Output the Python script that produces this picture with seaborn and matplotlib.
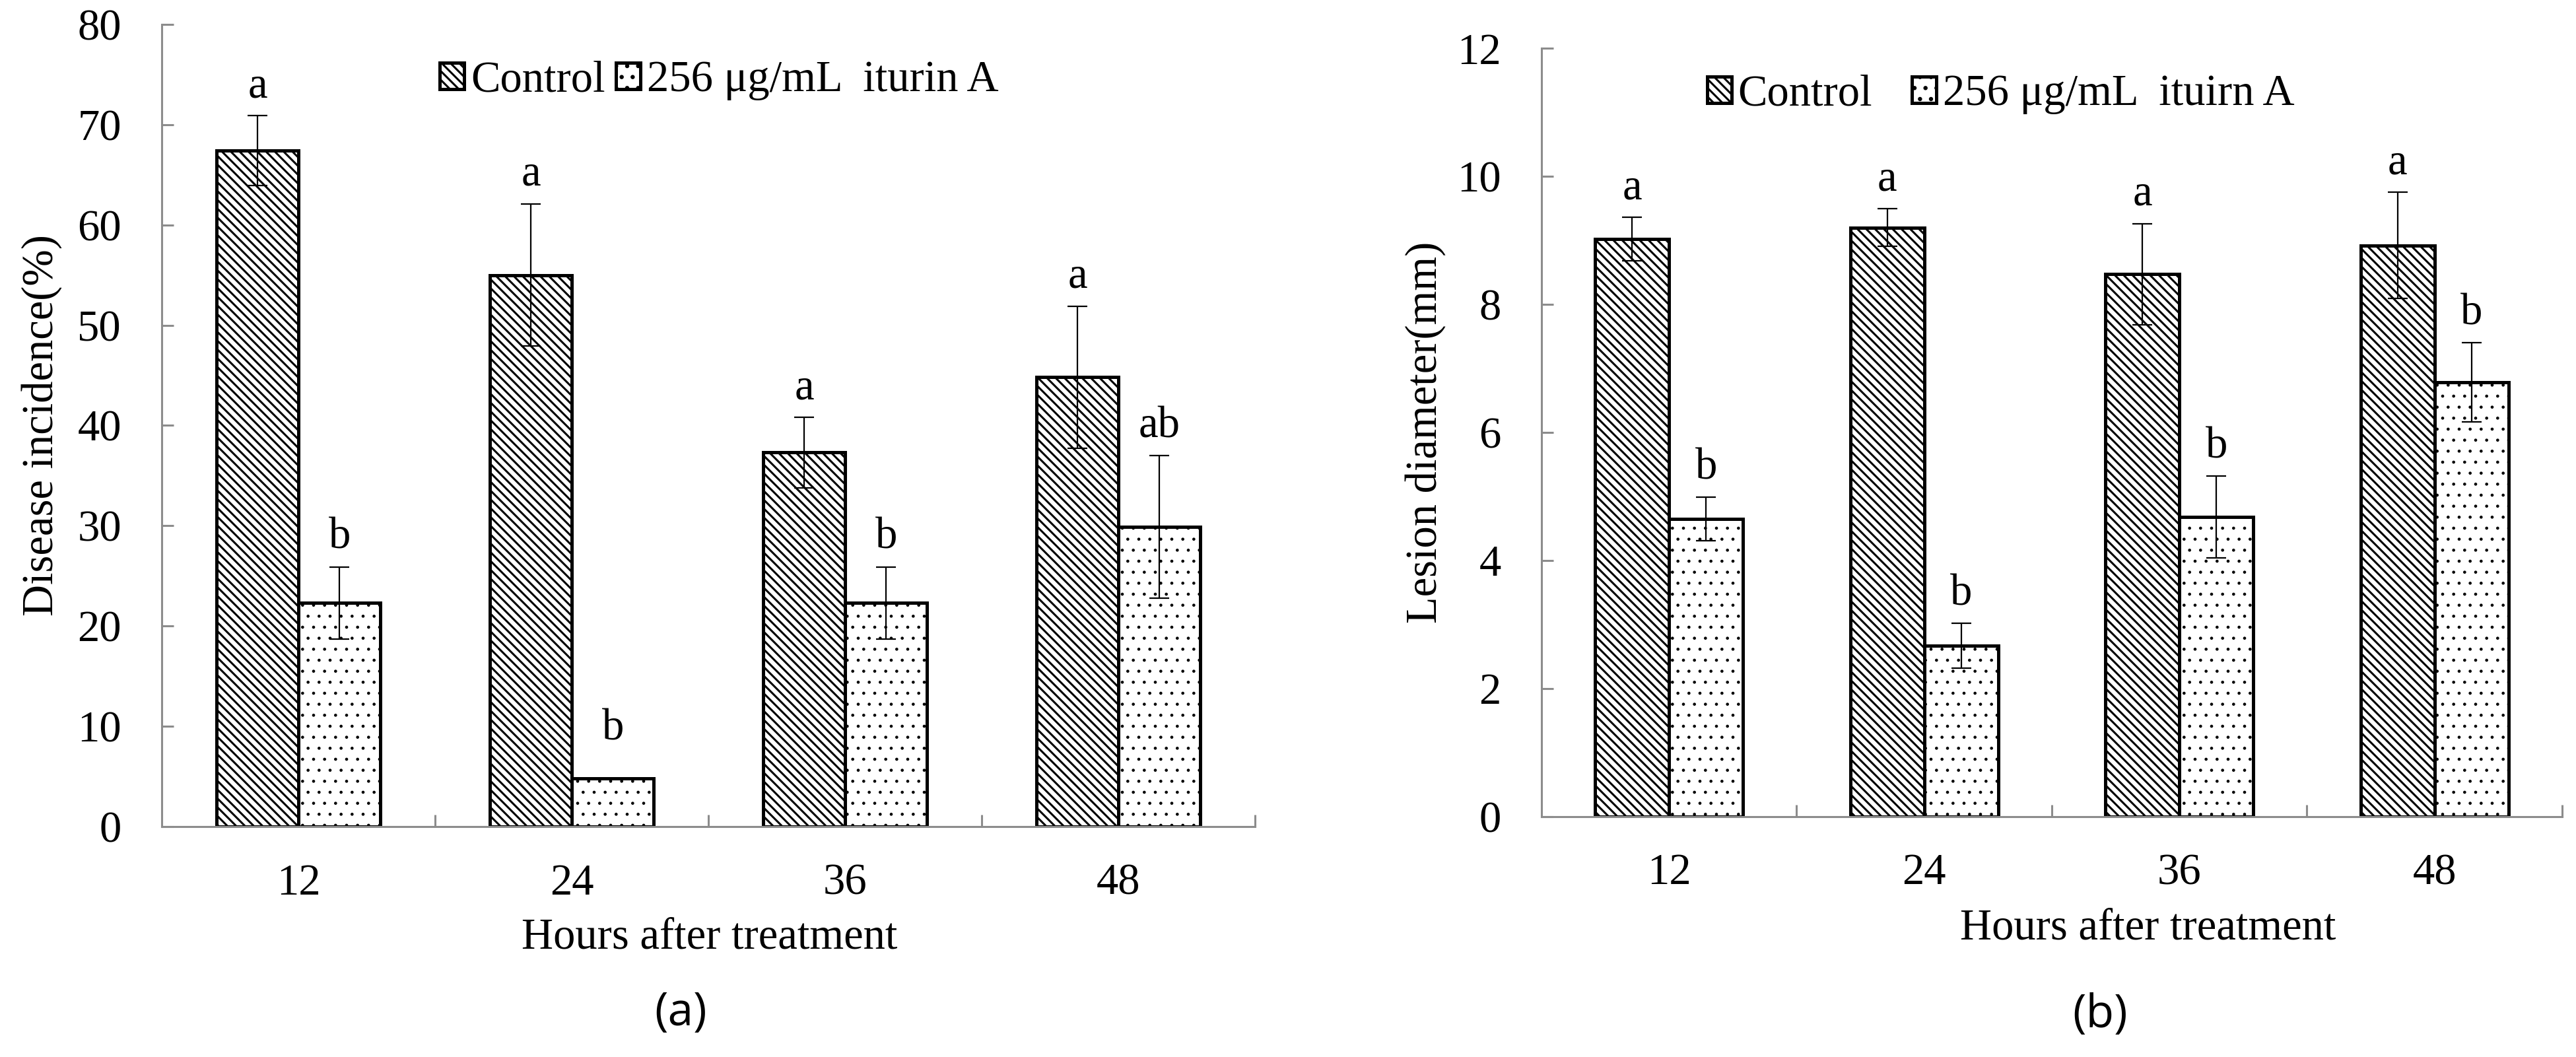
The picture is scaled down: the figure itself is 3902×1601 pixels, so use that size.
import matplotlib
matplotlib.use("Agg")
import pandas as pd
import matplotlib.pyplot as plt
import seaborn as sns

hours = ["12", "24", "36", "48"]
labels_a = ["Control", "256 μg/mL  iturin A"]
labels_b = ["Control", "256 μg/mL  ituirn A"]

# (a) disease incidence, %
inc_control = [67.4, 55.0, 37.3, 44.8]
inc_control_err = [3.5, 7.1, 3.5, 7.1]
inc_iturin = [22.3, 4.8, 22.3, 29.9]
inc_iturin_err = [3.6, 0.0, 3.6, 7.1]
inc_letters_control = ["a", "a", "a", "a"]
inc_letters_iturin = ["b", "b", "b", "ab"]

# (b) lesion diameter, mm
les_control = [9.02, 9.20, 8.47, 8.92]
les_control_err = [0.34, 0.29, 0.79, 0.83]
les_iturin = [4.65, 2.67, 4.68, 6.78]
les_iturin_err = [0.34, 0.35, 0.64, 0.62]
les_letters_control = ["a", "a", "a", "a"]
les_letters_iturin = ["b", "b", "b", "b"]

sns.set_theme(style="white")
plt.rcParams["font.family"] = ["Liberation Serif", "DejaVu Serif"]
plt.rcParams["hatch.linewidth"] = 1.1
plt.rcParams["text.color"] = "black"
plt.rcParams["axes.labelcolor"] = "black"

GRAY = "#8c8c8c"
FS = 24


def panel(ax, control, c_err, iturin, i_err, let_c, let_i, labels, width,
          ymax, ystep, ylabel, leg_xy, colsp):
    df = pd.DataFrame({
        "hours": hours * 2,
        "group": [labels[0]] * 4 + [labels[1]] * 4,
        "value": control + iturin,
    })
    sns.barplot(data=df, x="hours", y="value", hue="group",
                palette=["white", "white"], saturation=1, width=width,
                errorbar=None, edgecolor="black", linewidth=1.8,
                legend=False, ax=ax)

    hatches = ["\\\\\\\\\\", ".."]
    hatch_lw = [1.1, 0.45]
    vals = [control, iturin]
    errs = [c_err, i_err]
    letters = [let_c, let_i]
    bars = list(ax.containers)
    for k, cont in enumerate(bars):
        xs = []
        for bar in cont.patches:
            bar.set_hatch(hatches[k])
            if hasattr(bar, "set_hatch_linewidth"):
                bar.set_hatch_linewidth(hatch_lw[k])
            else:
                bar._hatch_linewidth = hatch_lw[k]
            xs.append(bar.get_x() + bar.get_width() / 2)
        ax.errorbar(xs, vals[k], yerr=errs[k], fmt="none", ecolor="black",
                    elinewidth=0.8, capsize=5.5, capthick=0.8, zorder=5)
        for x, v, e, t in zip(xs, vals[k], errs[k], letters[k]):
            off = 5 if e > 0 else 16
            ax.annotate(t, (x, v + e), xytext=(0, off), textcoords="offset points",
                        ha="center", va="bottom", fontsize=FS)

    ax.set_xlim(-0.5, 3.5)
    ax.set_ylim(0, ymax)
    ax.set_yticks(range(0, ymax + 1, ystep))
    ax.set_xticks([0.5, 1.5, 2.5, 3.5], minor=True)
    ax.tick_params(axis="x", which="major", length=0, pad=20, labelsize=FS,
                   labelcolor="black")
    ax.tick_params(axis="x", which="minor", direction="in", length=6.5,
                   width=1.1, color=GRAY, bottom=True)
    ax.tick_params(axis="y", direction="in", length=6.5, width=1.1,
                   color=GRAY, pad=22, labelsize=FS, left=True,
                   labelcolor="black")
    for s in ["top", "right"]:
        ax.spines[s].set_visible(False)
    for s in ["left", "bottom"]:
        ax.spines[s].set_color(GRAY)
        ax.spines[s].set_linewidth(1.1)

    ax.set_ylabel(ylabel, fontsize=FS)
    ax.set_xlabel("Hours after treatment", fontsize=FS)

    ax.legend(bars, labels, loc="center", bbox_to_anchor=leg_xy,
              ncol=2, frameon=False, fontsize=FS, handlelength=0.55,
              handleheight=0.55, handletextpad=0.15, columnspacing=colsp,
              borderaxespad=0, borderpad=0)


fig = plt.figure(figsize=(19.51, 8.005), dpi=200)
ax1 = fig.add_axes([0.0628, 0.218, 0.4244, 0.759])
ax2 = fig.add_axes([0.5984, 0.2274, 0.3962, 0.727])

panel(ax1, inc_control, inc_control_err, inc_iturin, inc_iturin_err,
      inc_letters_control, inc_letters_iturin, labels_a, 0.6,
      80, 10, "Disease incidence(%)", (0.51, 0.93), 0.25)
panel(ax2, les_control, les_control_err, les_iturin, les_iturin_err,
      les_letters_control, les_letters_iturin, labels_b, 0.58,
      12, 2, "Lesion diameter(mm)", (0.45, 0.94), 0.9)

ax1.yaxis.set_label_coords(-0.091, 0.5)
ax2.yaxis.set_label_coords(-0.094, 0.5)
ax1.xaxis.set_label_coords(0.501, -0.138)
ax2.xaxis.set_label_coords(0.594, -0.145)
ax1.xaxis.label.set_va("center")
ax2.xaxis.label.set_va("center")

fig.text(1031 / 3902, 1 - 1535 / 1601, "(a)", family=["Open Sans", "DejaVu Sans"],
         fontsize=25, ha="center", va="center")
fig.text(3181 / 3902, 1 - 1538 / 1601, "(b)", family=["Open Sans", "DejaVu Sans"],
         fontsize=25, ha="center", va="center")

fig.savefig("out.png", dpi=200, facecolor="white")
